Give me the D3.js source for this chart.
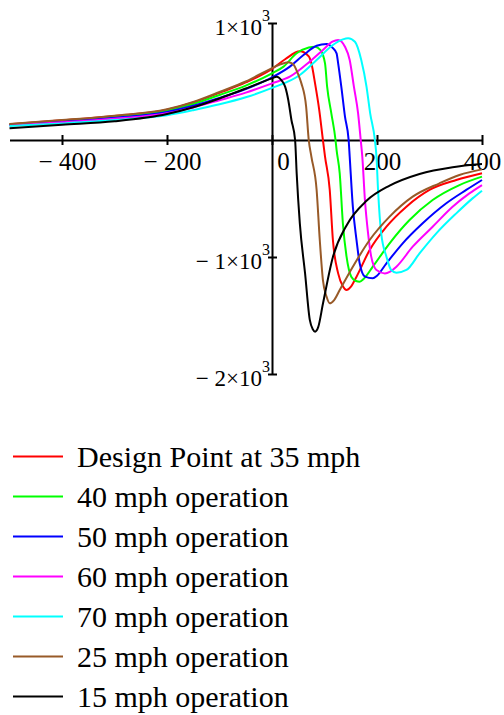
<!DOCTYPE html>
<head>
  <meta charset="utf-8">
  <script src="https://d3js.org/d3.v7.min.js"></script>
  <style>
    body { margin:0; background:#fff; }
    text { font-family: "Liberation Serif", "Times New Roman", serif; fill:#000; }
    .line { fill:none; stroke-width:2px; }
  </style>
</head>
<body>
<script>

  // traces, [x, y]
  var mph35 = [[-500,135],[-400,168],[-300,205],[-200,258],[-150,320],[-100,403],[-50,492],[0,608],[25,690],[53,758],
    [70,715],[75,655],[82,484],[90,256],[97,0],[101,-142],[110,-427],[116,-855],[126,-1140],[135,-1250],[142,-1282],
    [150,-1255],[161,-1168],[186,-940],[218,-741],[256,-570],[300,-427],[351,-342],[400,-285]];
  var mph40 = [[-500,133],[-400,164],[-300,198],[-200,250],[-150,308],[-100,385],[-50,465],[0,570],[22,627],[47,741],
    [70,790],[82,797],[92,770],[101,655],[105,456],[113,228],[121,0],[123,-85],[129,-285],[135,-712],[142,-997],
    [151,-1168],[160,-1205],[167,-1211],[175,-1185],[192,-1083],[224,-883],[262,-684],[306,-513],[357,-385],[400,-313]];
  var mph50 = [[-500,128],[-400,158],[-300,190],[-200,240],[-150,292],[-100,360],[-50,435],[0,535],[34,627],[60,726],
    [85,805],[104,820],[115,790],[123,741],[126,655],[132,456],[139,199],[146,0],[148,-142],[154,-570],[161,-855],
    [167,-1054],[177,-1168],[192,-1182],[200,-1160],[218,-1054],[249,-883],[287,-712],[332,-541],[370,-427],[400,-342]];
  var mph60 = [[-500,125],[-400,152],[-300,182],[-200,228],[-150,278],[-100,340],[-50,405],[0,484],[34,541],[72,670],
    [97,769],[115,840],[126,855],[139,797],[148,684],[156,456],[164,228],[169,0],[172,-142],[177,-513],[183,-798],
    [189,-997],[199,-1111],[215,-1140],[225,-1125],[237,-1083],[268,-912],[306,-741],[344,-570],[376,-456],[400,-385]];
  var mph70 = [[-500,120],[-400,142],[-300,170],[-200,212],[-150,255],[-100,305],[-50,365],[0,445],[53,556],[85,684],
    [116,812],[135,860],[145,870],[158,840],[170,684],[180,456],[187,228],[196,0],[199,-142],[202,-427],[208,-798],
    [218,-997],[227,-1111],[237,-1134],[256,-1111],[281,-969],[313,-798],[351,-627],[382,-499],[400,-433]];
  var mph25 = [[-500,137],[-400,170],[-300,208],[-200,262],[-150,325],[-100,410],[-50,500],[0,615],[15,645],[31,665],
    [40,650],[50,560],[56,484],[65,285],[70,0],[75,-142],[85,-427],[91,-855],[97,-1197],[104,-1340],[110,-1396],
    [118,-1370],[129,-1282],[154,-1083],[186,-855],[224,-655],[268,-484],[319,-370],[357,-299],[400,-251]];
  var mph15 = [[-500,100],[-400,130],[-300,160],[-200,222],[-150,280],[-100,355],[-50,440],[0,527],[9,541],[18,510],
    [25,456],[31,342],[37,171],[44,0],[47,-285],[53,-712],[63,-1140],[72,-1538],[78,-1620],[82,-1638],[88,-1600],
    [97,-1400],[116,-1000],[142,-730],[180,-520],[224,-390],[281,-290],[344,-232],[400,-205]];

  var series = [mph35, mph40, mph50, mph60, mph70, mph25, mph15];
  var names = ["Design Point at 35 mph", "40 mph operation", "50 mph operation", "60 mph operation",
               "70 mph operation", "25 mph operation", "15 mph operation"];
  var color = ["#ff0000", "#00ff00", "#0000ff", "#ff00ff", "#00ffff", "#985a28", "#000000"];

  var xTicks = [-400, -200, 0, 200, 400];
  var yTicks = [-2000, -1000, 1000];

  var serif = '"Liberation Serif", "Times New Roman", serif';
  var width = 504, height = 715;

  var svg = d3.select("body").append("svg")
    .attr("width", width)
    .attr("height", height);

  var x = d3.scaleLinear().domain([-500, 400]).range([9.5, 482]);
  var y = d3.scaleLinear().domain([-2000, 1000]).range([374, 23]);

  // x axis through y = 0, ticks crossing the line
  var xAxis = d3.axisBottom(x)
    .tickValues(xTicks)
    .tickSizeInner(5)
    .tickSizeOuter(0)
    .tickFormat(function(d) { return d < 0 ? "\u2212 " + (-d) : d; });

  var gx = svg.append("g")
    .attr("transform", "translate(0," + y(0) + ")")
    .call(xAxis);
  gx.attr("font-family", serif);
  gx.select(".domain").attr("stroke-width", 2);
  gx.selectAll(".tick line").attr("y1", -5).attr("y2", 5).attr("stroke-width", 2);
  gx.selectAll(".tick text")
    .attr("y", 30).attr("dy", 0)
    .attr("dx", function(d) { return d === 0 ? 11 : (d === 400 ? 0 : 5); })
    .style("font-family", serif)
    .style("font-size", "25px");

  // y axis through x = 0
  var yAxis = d3.axisLeft(y)
    .tickValues(yTicks)
    .tickSizeInner(5)
    .tickSizeOuter(0);

  var gy = svg.append("g")
    .attr("transform", "translate(" + x(0) + ",0)")
    .call(yAxis);
  gy.attr("font-family", serif);
  gy.select(".domain").attr("stroke-width", 2);
  gy.selectAll(".tick line").attr("x1", 5).attr("x2", -4).attr("stroke-width", 2);

  var yt = gy.selectAll(".tick text")
    .text(null)
    .attr("x", -2).attr("y", 11).attr("dy", 0)
    .attr("text-anchor", "end")
    .style("font-family", serif)
    .style("font-size", "23px");
  yt.append("tspan")
    .text(function(d) { return (d < 0 ? "\u2212 " : "") + Math.abs(d / 1000) + "\u00d710"; });
  yt.append("tspan")
    .attr("dy", -14)
    .style("font-size", "16px")
    .text("3");

  // traces
  var line = d3.line()
    .x(function(d) { return x(d[0]); })
    .y(function(d) { return y(d[1]); })
    .curve(d3.curveMonotoneX);

  svg.selectAll(".line").data(series).enter()
    .append("path")
    .attr("class", "line")
    .attr("d", line)
    .attr("stroke", function(d, i) { return color[i]; });

  // legend
  var legend = svg.selectAll(".legend")
    .data(names)
    .enter()
    .append("g")
    .attr("class", "legend")
    .attr("transform", function(d, i) { return "translate(0," + (456.5 + i * 40) + ")"; });

  legend.append("line")
    .attr("x1", 13).attr("x2", 63)
    .attr("stroke-width", 2)
    .attr("stroke", function(d, i) { return color[i]; });

  legend.append("text")
    .attr("x", 77)
    .attr("y", 10)
    .style("font-family", serif)
    .style("font-size", "30px")
    .text(function(d) { return d; });

</script>
</body>
